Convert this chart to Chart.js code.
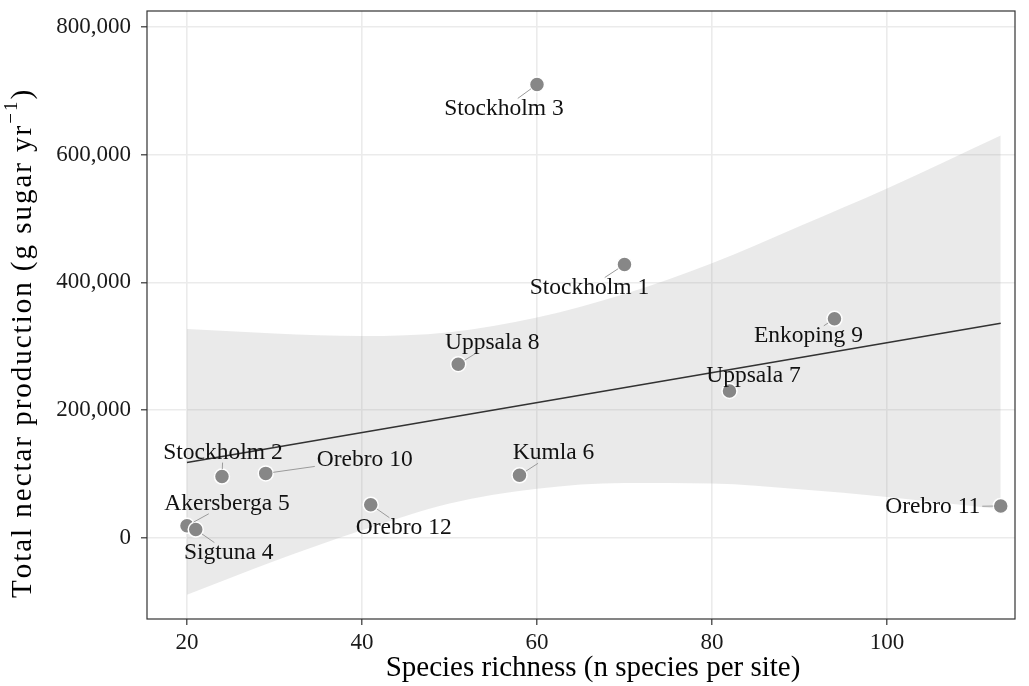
<!DOCTYPE html>
<html>
<head>
<meta charset="utf-8">
<script src="https://cdn.jsdelivr.net/npm/chart.js@4/dist/chart.umd.min.js"></script>
<style>
  html, body { margin: 0; padding: 0; background: #ffffff; }
  #wrap { width: 1029px; height: 686px; position: relative; }
</style>
</head>
<body>
<div id="wrap"><canvas id="c" width="1029" height="686"></canvas></div>
<script>
// ---- Data ----
const siteNames = ["Stockholm 3", "Stockholm 1", "Enkoping 9", "Uppsala 8", "Uppsala 7", "Stockholm 2",
                   "Orebro 10", "Kumla 6", "Orebro 12", "Orebro 11", "Akersberga 5", "Sigtuna 4"];
const speciesRichness = [60, 70, 94, 51, 82, 24, 29, 58, 41, 113, 20, 21];
const nectarProduction = [710000, 428000, 343000, 272000, 230000, 96000, 101000, 98000, 52000, 50000, 19000, 13000];

const fitX = [20, 113];
const fitY = [118000, 336000];

const bandX = [20, 30, 40, 50, 60, 70, 80, 90, 100, 113];
const bandUpper = [327000, 320000, 316000, 322000, 345000, 382000, 430000, 488000, 547000, 630000];
const bandLower = [-89000, -36000, 12000, 54000, 77000, 86000, 85000, 76000, 64000, 45000];

const xTicks = [20, 40, 60, 80, 100];
const yTicks = [0, 200000, 400000, 600000, 800000];

const xTitle = 'Species richness (n species per site)';
const yTitleMain = 'Total nectar production (g sugar yr';
const yTitleSup = '\u22121';
const yTitleEnd = ')';

// ---- Styles (label placement relative to each point, in pixels) ----
const labelOffsets = [[-33, 24], [-35, 23], [-26, 17], [34, -21], [24, -15], [1, -24],
                      [99, -14], [34, -22], [33, 23], [-68, 1], [40, -22], [33, 23]];
const FONT = '"Liberation Serif", "Times New Roman", serif';

const pts = speciesRichness.map((v, i) => ({ x: v, y: nectarProduction[i] }));
const fitPts = fitX.map((v, i) => ({ x: v, y: fitY[i] }));
const upPts = bandX.map((v, i) => ({ x: v, y: bandUpper[i] }));
const loPts = bandX.map((v, i) => ({ x: v, y: bandLower[i] }));

const labelPlugin = {
  id: 'repelLabels',
  afterDatasetsDraw(chart) {
    const { ctx, chartArea, scales: { x, y } } = chart;
    ctx.save();
    // panel border
    ctx.strokeStyle = '#333333';
    ctx.lineWidth = 1.2;
    ctx.strokeRect(chartArea.left, chartArea.top, chartArea.right - chartArea.left, chartArea.bottom - chartArea.top);

    ctx.font = '23.5px ' + FONT;
    ctx.textAlign = 'center';
    ctx.textBaseline = 'middle';
    siteNames.forEach((name, i) => {
      const px = x.getPixelForValue(speciesRichness[i]);
      const py = y.getPixelForValue(nectarProduction[i]);
      const lx = px + labelOffsets[i][0];
      const ly = py + labelOffsets[i][1];
      const w = ctx.measureText(name).width;
      const hw = w / 2 + 2, hh = 10;
      const vx = px - lx, vy = py - ly;
      const tx = vx !== 0 ? hw / Math.abs(vx) : Infinity;
      const ty = vy !== 0 ? hh / Math.abs(vy) : Infinity;
      const t = Math.min(tx, ty);
      if (t < 1) {
        const ex = lx + vx * t, ey = ly + vy * t;
        const d = Math.hypot(px - ex, py - ey);
        const r = 7.5;
        if (d > r + 1) {
          const sx = px - (px - ex) / d * r, sy = py - (py - ey) / d * r;
          ctx.strokeStyle = '#9a9a9a';
          ctx.lineWidth = 1;
          ctx.beginPath();
          ctx.moveTo(sx, sy);
          ctx.lineTo(ex, ey);
          ctx.stroke();
        }
      }
      ctx.fillStyle = '#111111';
      ctx.fillText(name, lx, ly);
    });
    ctx.restore();
  },
  afterDraw(chart) {
    const { ctx } = chart;
    ctx.save();
    ctx.fillStyle = '#000000';
    // x-axis title
    ctx.font = '29px ' + FONT;
    ctx.textAlign = 'center';
    ctx.textBaseline = 'middle';
    ctx.fillText(xTitle, 593, 668);
    // y-axis title (rotated, with superscript)
    ctx.translate(23, 598);
    ctx.rotate(-Math.PI / 2);
    ctx.textAlign = 'left';
    ctx.textBaseline = 'middle';
    ctx.font = '29px ' + FONT;
    const w1 = ctx.measureText(yTitleMain).width;
    const w3 = ctx.measureText(yTitleEnd).width;
    ctx.font = '19px ' + FONT;
    const w2 = ctx.measureText(yTitleSup).width;
    const target = 508;
    const nChars = yTitleMain.length + yTitleSup.length + yTitleEnd.length;
    const sp = Math.max(0, (target - (w1 + w2 + w3)) / nChars);
    let cx = 0;
    ctx.font = '29px ' + FONT;
    for (const ch of yTitleMain) { ctx.fillText(ch, cx, 0); cx += ctx.measureText(ch).width + sp; }
    ctx.font = '19px ' + FONT;
    for (const ch of yTitleSup) { ctx.fillText(ch, cx, -11); cx += ctx.measureText(ch).width + sp; }
    ctx.font = '29px ' + FONT;
    ctx.fillText(yTitleEnd, cx, 0);
    ctx.restore();
  }
};

new Chart(document.getElementById('c'), {
  type: 'scatter',
  data: {
    datasets: [
      {
        label: 'sites', data: pts, order: 0,
        pointRadius: 7.5, pointHoverRadius: 7.5,
        backgroundColor: '#878787', borderColor: '#ffffff', borderWidth: 1.5
      },
      {
        type: 'line', label: 'fit', data: fitPts, order: 1,
        borderColor: '#333333', borderWidth: 1.6, pointRadius: 0, fill: false
      },
      {
        type: 'line', label: 'upper', data: upPts, order: 2,
        borderWidth: 0, borderColor: 'rgba(0,0,0,0)', pointRadius: 0,
        cubicInterpolationMode: 'monotone',
        fill: '+1', backgroundColor: 'rgba(150,150,150,0.2)'
      },
      {
        type: 'line', label: 'lower', data: loPts, order: 3,
        borderWidth: 0, borderColor: 'rgba(0,0,0,0)', pointRadius: 0,
        cubicInterpolationMode: 'monotone', fill: false
      }
    ]
  },
  options: {
    responsive: false,
    animation: false,
    layout: { padding: { top: 11, right: 14, left: 0, bottom: 0 } },
    plugins: { legend: { display: false }, tooltip: { enabled: false } },
    scales: {
      x: {
        type: 'linear', position: 'bottom', min: 15.43, max: 114.63,
        afterBuildTicks: s => { s.ticks = xTicks.map(v => ({ value: v })); },
        afterFit: s => { s.height = 67; s.paddingLeft = 0; s.paddingRight = 0; },
        grid: { color: '#EBEBEB', lineWidth: 1.6, tickLength: 6, tickColor: '#333333', tickWidth: 1.2 },
        border: { display: false },
        ticks: { font: { family: FONT, size: 23 }, color: '#1a1a1a', padding: 4, maxRotation: 0 },
        title: { display: false }
      },
      y: {
        type: 'linear', position: 'left', min: -127000, max: 825000,
        afterBuildTicks: s => { s.ticks = yTicks.map(v => ({ value: v })); },
        afterFit: s => { s.width = 147; s.paddingTop = 0; s.paddingBottom = 0; },
        grid: { color: '#EBEBEB', lineWidth: 1.6, tickLength: 6, tickColor: '#333333', tickWidth: 1.2 },
        border: { display: false },
        ticks: { font: { family: FONT, size: 23 }, color: '#1a1a1a', padding: 10,
                 callback: v => v.toLocaleString('en-US') },
        title: { display: false }
      }
    }
  },
  plugins: [labelPlugin]
});
</script>
</body>
</html>
